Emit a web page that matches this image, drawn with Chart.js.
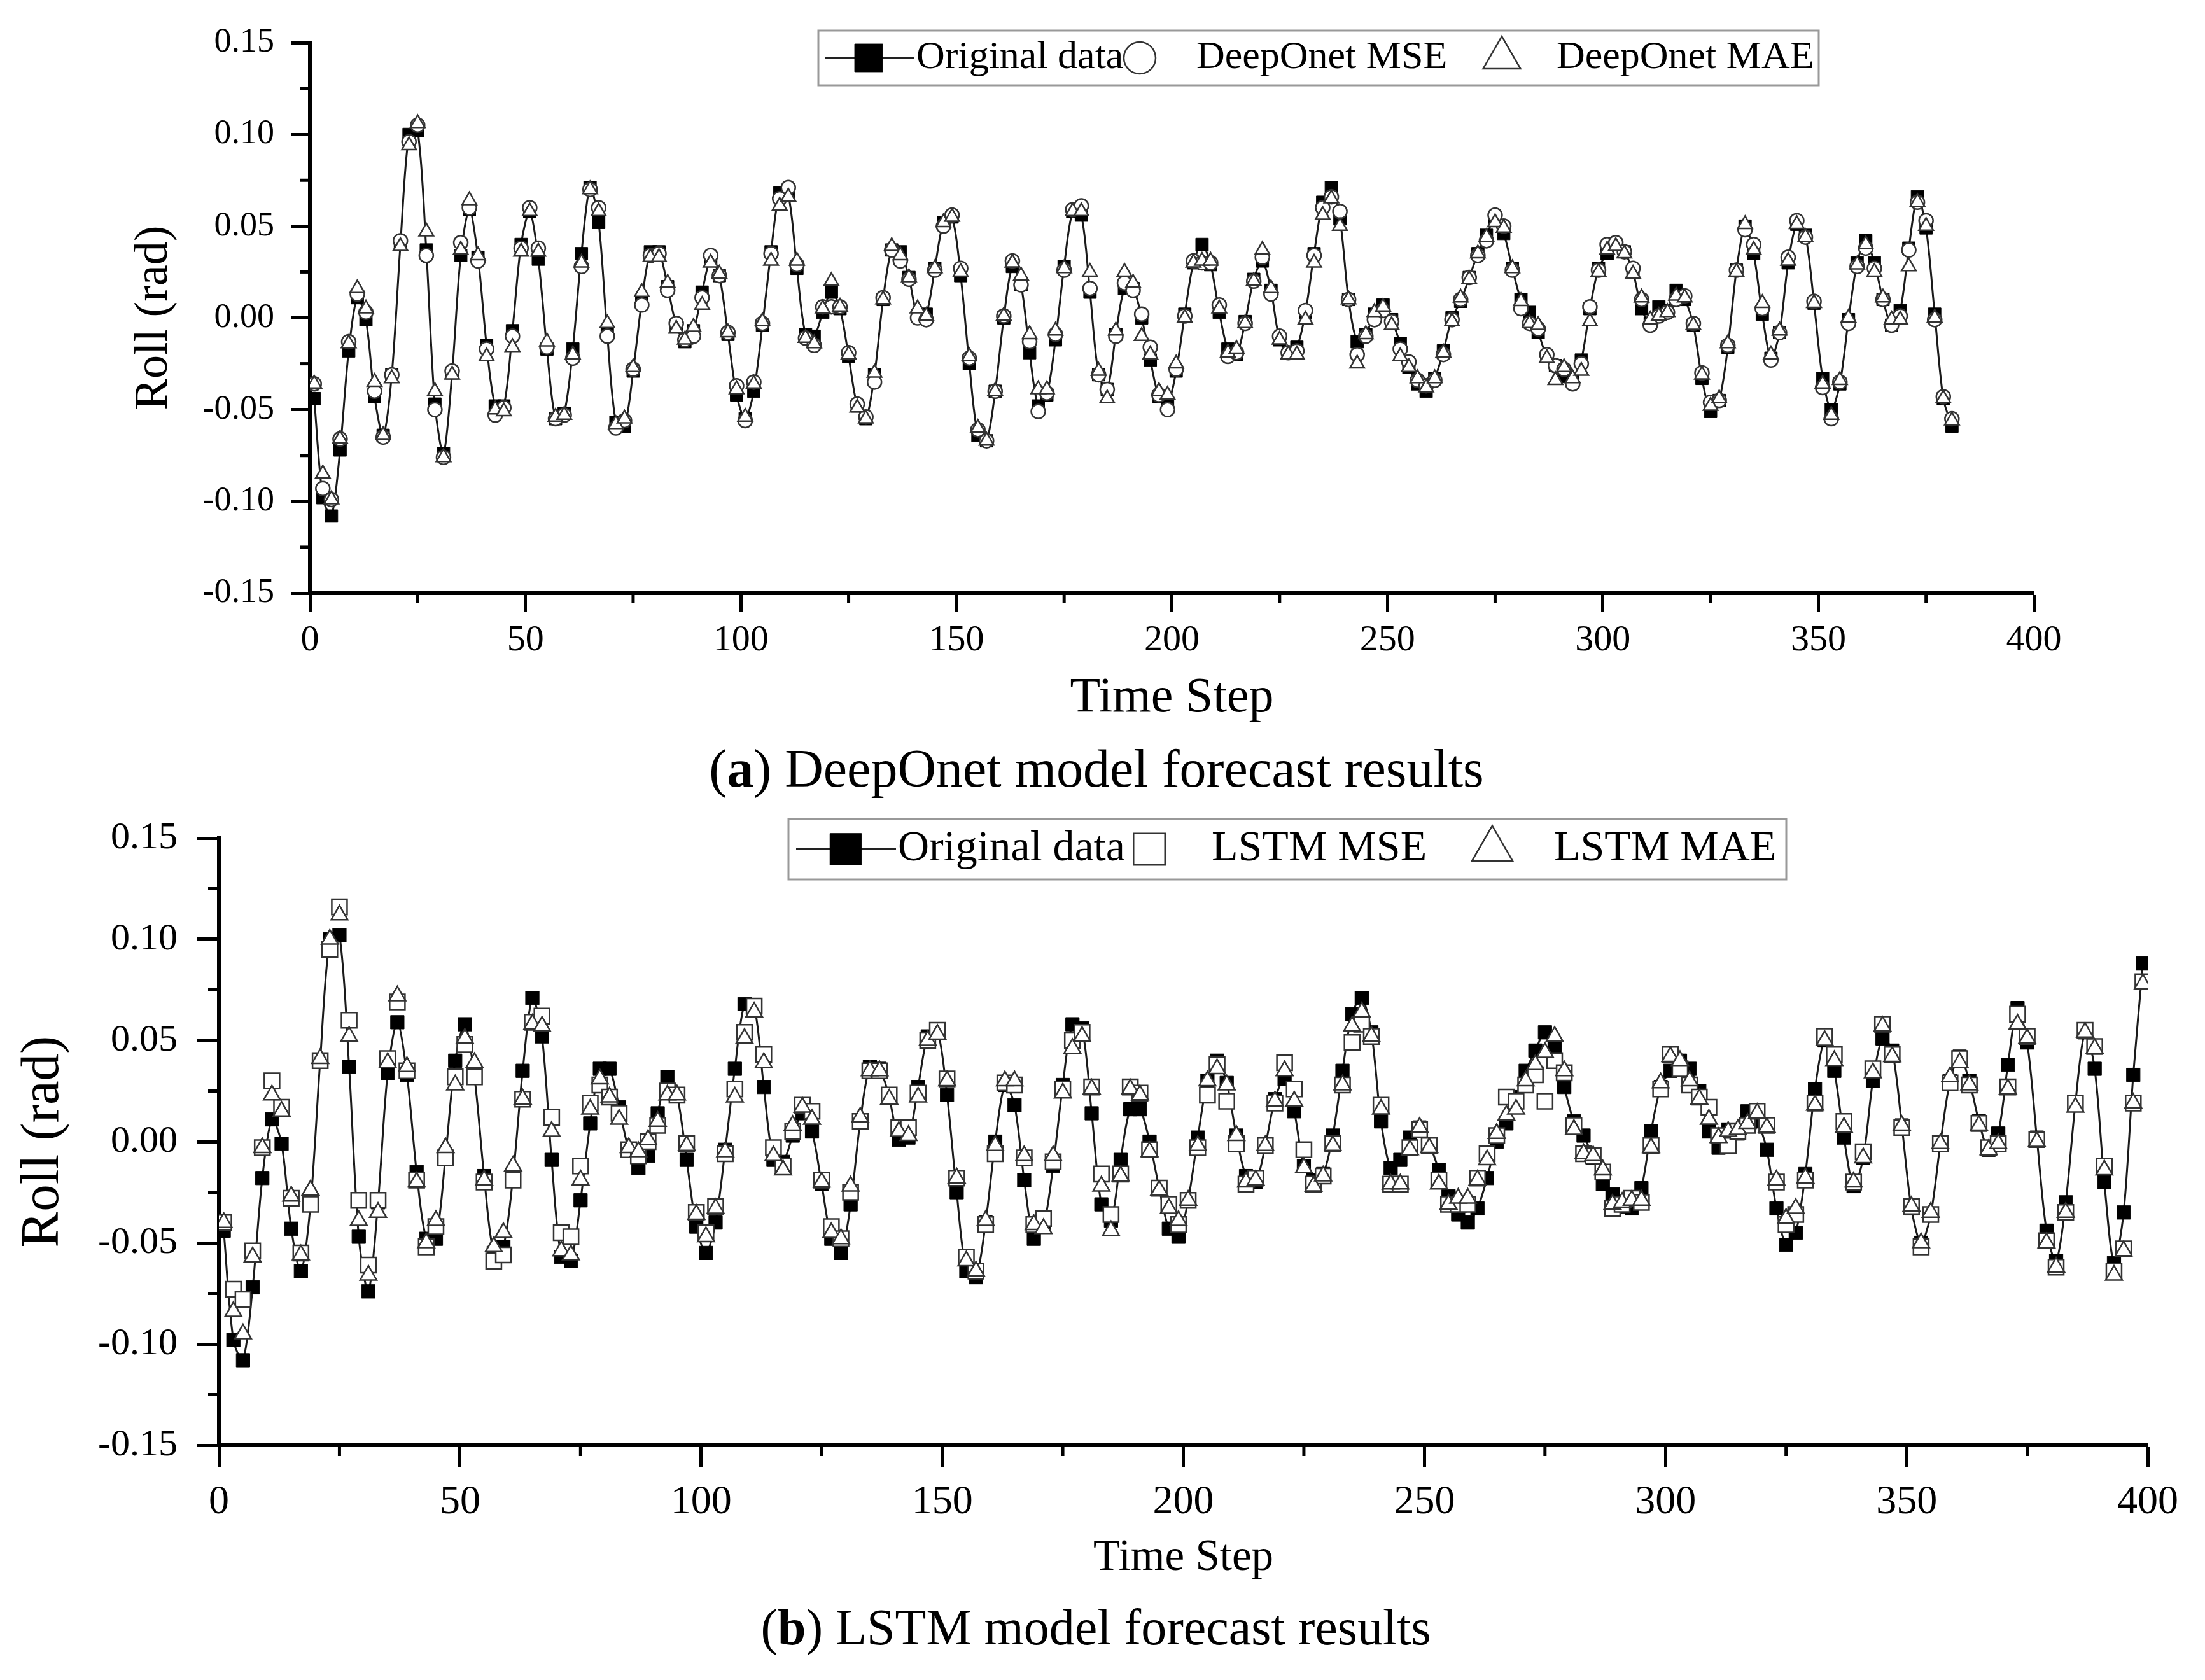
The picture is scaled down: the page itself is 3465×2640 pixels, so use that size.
<!DOCTYPE html>
<html>
<head>
<meta charset="utf-8">
<script src="https://cdn.jsdelivr.net/npm/chart.js@4.4.1/dist/chart.umd.min.js"></script>
<style>
    body { margin: 0; background: #fff; }
    #page { position: relative; width: 3465px; height: 2640px; overflow: hidden; background: #fff; font-family: "Liberation Serif", "Times New Roman", serif; }
    .panel { position: absolute; left: 0; }
    .caption { position: absolute; text-align: center; white-space: nowrap; color: #000; line-height: 1; }
</style>
</head>
<body>
<div id="page">
    <div class="panel" style="top:0; width:3465px; height:1150px;">
        <canvas id="deepOnetChart" width="3465" height="1150"></canvas>
    </div>
    <div class="caption" style="left:723px; width:2000px; top:1166px; font-size:84px;">(<b>a</b>) DeepOnet model forecast results</div>

    <div class="panel" style="top:1250px; width:3465px; height:1260px;">
        <canvas id="lstmChart" width="3465" height="1260"></canvas>
    </div>
    <div class="caption" style="left:722px; width:2000px; top:2517px; font-size:80px;">(<b>b</b>) LSTM model forecast results</div>
</div>

<script>
// Roll (rad), sampled every 2 time steps from t = 1
const rollOriginal = [
    -0.044, -0.098, -0.108, -0.072, -0.018, 0.011, -0.001, -0.043, -0.064, -0.031,
    0.040, 0.100, 0.102, 0.037, -0.047, -0.074, -0.030, 0.034, 0.059, 0.033,
    -0.015, -0.048, -0.048, -0.007, 0.040, 0.058, 0.032, -0.017, -0.055, -0.052,
    -0.017, 0.035, 0.071, 0.052, -0.009, -0.057, -0.059, -0.029, 0.009, 0.036,
    0.036, 0.017, -0.004, -0.013, -0.007, 0.014, 0.032, 0.023, -0.009, -0.042,
    -0.055, -0.040, -0.004, 0.036, 0.068, 0.067, 0.027, -0.009, -0.010, 0.003,
    0.014, 0.005, -0.021, -0.048, -0.055, -0.031, 0.010, 0.037, 0.036, 0.022,
    0.001, 0.002, 0.027, 0.052, 0.055, 0.023, -0.025, -0.064, -0.067, -0.040,
    0.000, 0.028, 0.018, -0.019, -0.048, -0.042, -0.012, 0.028, 0.058, 0.056,
    0.014, -0.031, -0.039, -0.009, 0.016, 0.016, 0.000, -0.023, -0.043, -0.047,
    -0.029, 0.002, 0.030, 0.040, 0.029, 0.003, -0.017, -0.020, -0.002, 0.021,
    0.031, 0.015, -0.012, -0.019, -0.016, 0.003, 0.035, 0.063, 0.071, 0.054,
    0.010, -0.013, -0.009, 0.002, 0.007, -0.001, -0.014, -0.027, -0.036, -0.040,
    -0.033, -0.018, 0.000, 0.009, 0.022, 0.035, 0.045, 0.054, 0.046, 0.027,
    0.010, 0.003, -0.008, -0.021, -0.026, -0.032, -0.033, -0.023, 0.005, 0.027,
    0.035, 0.040, 0.036, 0.025, 0.005, -0.003, 0.006, 0.004, 0.015, 0.010,
    -0.004, -0.033, -0.051, -0.045, -0.016, 0.026, 0.050, 0.035, 0.002, -0.022,
    -0.008, 0.030, 0.051, 0.045, 0.008, -0.033, -0.050, -0.036, -0.001, 0.030,
    0.042, 0.030, 0.010, -0.004, 0.004, 0.038, 0.066, 0.049, 0.002, -0.044,
    -0.059, -0.030, 0.019, 0.054, 0.036, -0.020, -0.060, -0.035, 0.033, 0.088
];

const deepOnetMse = [
    -0.036, -0.093, -0.099, -0.066, -0.013, 0.013, 0.003, -0.040, -0.065, -0.031,
    0.042, 0.096, 0.105, 0.034, -0.050, -0.076, -0.029, 0.041, 0.060, 0.031,
    -0.017, -0.053, -0.049, -0.010, 0.038, 0.060, 0.038, -0.016, -0.055, -0.053,
    -0.022, 0.028, 0.070, 0.060, -0.010, -0.060, -0.056, -0.028, 0.007, 0.034,
    0.035, 0.015, -0.003, -0.012, -0.010, 0.011, 0.034, 0.023, -0.008, -0.037,
    -0.056, -0.035, -0.003, 0.035, 0.065, 0.071, 0.029, -0.011, -0.015, 0.006,
    0.006, 0.006, -0.019, -0.047, -0.054, -0.035, 0.011, 0.037, 0.031, 0.021,
    0.000, -0.001, 0.026, 0.050, 0.056, 0.027, -0.022, -0.061, -0.067, -0.040,
    0.001, 0.031, 0.018, -0.013, -0.051, -0.041, -0.009, 0.026, 0.059, 0.061,
    0.016, -0.031, -0.039, -0.010, 0.019, 0.015, 0.002, -0.016, -0.042, -0.050,
    -0.028, 0.001, 0.031, 0.030, 0.030, 0.007, -0.021, -0.019, -0.003, 0.020,
    0.033, 0.013, -0.010, -0.019, -0.018, 0.004, 0.034, 0.060, 0.066, 0.058,
    0.010, -0.020, -0.010, -0.001, 0.004, -0.002, -0.017, -0.024, -0.034, -0.037,
    -0.034, -0.020, -0.001, 0.010, 0.022, 0.034, 0.042, 0.056, 0.050, 0.026,
    0.005, -0.003, -0.006, -0.020, -0.026, -0.028, -0.036, -0.025, 0.006, 0.026,
    0.040, 0.041, 0.036, 0.027, 0.010, -0.004, 0.001, 0.003, 0.010, 0.012,
    -0.003, -0.030, -0.046, -0.045, -0.015, 0.026, 0.048, 0.040, 0.005, -0.023,
    -0.008, 0.033, 0.053, 0.044, 0.009, -0.038, -0.055, -0.035, -0.003, 0.028,
    0.038, 0.027, 0.010, -0.004, 0.001, 0.037, 0.063, 0.053, -0.001, -0.043,
    -0.055
];

const deepOnetMae = [
    -0.036, -0.085, -0.099, -0.066, -0.014, 0.016, 0.005, -0.035, -0.064, -0.033,
    0.039, 0.094, 0.106, 0.047, -0.040, -0.076, -0.031, 0.037, 0.064, 0.034,
    -0.021, -0.050, -0.051, -0.016, 0.036, 0.058, 0.036, -0.013, -0.054, -0.053,
    -0.020, 0.030, 0.070, 0.058, -0.003, -0.058, -0.055, -0.027, 0.014, 0.033,
    0.033, 0.019, -0.006, -0.012, -0.005, 0.007, 0.030, 0.024, -0.008, -0.039,
    -0.054, -0.036, -0.002, 0.031, 0.061, 0.066, 0.031, -0.011, -0.014, 0.005,
    0.020, 0.006, -0.020, -0.049, -0.055, -0.030, 0.010, 0.039, 0.034, 0.022,
    0.005, 0.001, 0.027, 0.052, 0.055, 0.025, -0.021, -0.060, -0.067, -0.040,
    0.001, 0.030, 0.023, -0.009, -0.039, -0.039, -0.007, 0.027, 0.058, 0.058,
    0.025, -0.029, -0.044, -0.007, 0.025, 0.019, -0.010, -0.020, -0.040, -0.042,
    -0.025, 0.000, 0.030, 0.031, 0.031, 0.005, -0.019, -0.017, -0.003, 0.020,
    0.037, 0.016, -0.012, -0.020, -0.020, -0.001, 0.030, 0.056, 0.065, 0.050,
    0.010, -0.025, -0.009, 0.003, 0.006, -0.004, -0.021, -0.027, -0.033, -0.038,
    -0.033, -0.019, -0.002, 0.011, 0.021, 0.035, 0.044, 0.052, 0.049, 0.027,
    0.009, -0.003, -0.004, -0.022, -0.034, -0.027, -0.033, -0.029, -0.002, 0.025,
    0.037, 0.039, 0.035, 0.024, 0.011, -0.001, 0.001, 0.003, 0.012, 0.011,
    -0.004, -0.031, -0.048, -0.044, -0.014, 0.025, 0.051, 0.037, 0.008, -0.020,
    -0.007, 0.031, 0.051, 0.044, 0.008, -0.036, -0.053, -0.034, 0.000, 0.029,
    0.040, 0.025, 0.011, -0.001, -0.001, 0.028, 0.063, 0.050, 0.000, -0.044,
    -0.056
];

const lstmMse = [
    -0.040, -0.073, -0.078, -0.054, -0.003, 0.030, 0.017, -0.028, -0.055, -0.031,
    0.040, 0.095, 0.116, 0.060, -0.029, -0.061, -0.029, 0.041, 0.069, 0.035,
    -0.019, -0.052, -0.042, -0.008, 0.032, 0.048, 0.032, -0.020, -0.059, -0.056,
    -0.019, 0.021, 0.059, 0.062, 0.012, -0.045, -0.047, -0.012, 0.019, 0.028,
    0.022, 0.014, -0.004, -0.007, 0.000, 0.008, 0.025, 0.023, -0.001, -0.035,
    -0.045, -0.032, -0.006, 0.026, 0.054, 0.067, 0.043, -0.003, -0.012, 0.005,
    0.018, 0.015, -0.019, -0.042, -0.048, -0.025, 0.010, 0.035, 0.035, 0.023,
    0.007, 0.007, 0.024, 0.050, 0.055, 0.031, -0.018, -0.057, -0.064, -0.041,
    -0.006, 0.029, 0.028, -0.008, -0.041, -0.038, -0.010, 0.026, 0.050, 0.054,
    0.027, -0.016, -0.036, -0.016, 0.027, 0.024, -0.004, -0.023, -0.031, -0.041,
    -0.029, -0.003, 0.023, 0.038, 0.020, -0.001, -0.021, -0.018, -0.002, 0.019,
    0.039, 0.026, -0.004, -0.021, -0.017, -0.001, 0.028, 0.049, 0.058, 0.052,
    0.018, -0.021, -0.021, -0.003, 0.006, -0.002, -0.019, -0.031, -0.031, -0.031,
    -0.018, -0.006, 0.003, 0.022, 0.020, 0.028, 0.033, 0.020, 0.040, 0.034,
    0.008, -0.006, -0.007, -0.015, -0.033, -0.031, -0.028, -0.030, -0.002, 0.026,
    0.043, 0.036, 0.028, 0.022, 0.017, 0.003, -0.002, 0.005, 0.008, 0.015,
    0.008, -0.020, -0.041, -0.036, -0.019, 0.019, 0.052, 0.043, 0.010, -0.020,
    -0.005, 0.036, 0.058, 0.043, 0.007, -0.032, -0.052, -0.036, -0.001, 0.029,
    0.041, 0.028, 0.009, -0.003, -0.001, 0.027, 0.063, 0.052, 0.001, -0.049,
    -0.062, -0.035, 0.019, 0.055, 0.047, -0.012, -0.064, -0.053, 0.019, 0.079
];

const lstmMae = [
    -0.040, -0.084, -0.095, -0.057, -0.003, 0.023, 0.015, -0.027, -0.056, -0.024,
    0.041, 0.100, 0.112, 0.052, -0.039, -0.066, -0.035, 0.039, 0.072, 0.037,
    -0.020, -0.050, -0.039, -0.003, 0.028, 0.051, 0.039, -0.019, -0.052, -0.045,
    -0.012, 0.021, 0.058, 0.057, 0.005, -0.054, -0.056, -0.019, 0.016, 0.031,
    0.022, 0.011, -0.003, -0.005, 0.001, 0.010, 0.023, 0.023, -0.002, -0.036,
    -0.047, -0.033, -0.005, 0.022, 0.051, 0.064, 0.039, -0.007, -0.014, 0.008,
    0.017, 0.011, -0.020, -0.045, -0.048, -0.022, 0.012, 0.035, 0.035, 0.021,
    0.005, 0.003, 0.022, 0.050, 0.053, 0.030, -0.018, -0.059, -0.064, -0.039,
    -0.002, 0.030, 0.030, -0.007, -0.041, -0.043, -0.007, 0.024, 0.046, 0.052,
    0.026, -0.022, -0.044, -0.017, 0.026, 0.023, -0.005, -0.024, -0.033, -0.039,
    -0.029, -0.002, 0.030, 0.036, 0.028, 0.003, -0.020, -0.019, -0.002, 0.020,
    0.035, 0.020, -0.013, -0.022, -0.017, -0.002, 0.028, 0.057, 0.064, 0.052,
    0.016, -0.021, -0.021, -0.004, 0.007, -0.003, -0.021, -0.031, -0.028, -0.028,
    -0.019, -0.009, 0.004, 0.013, 0.016, 0.030, 0.038, 0.044, 0.052, 0.035,
    0.006, -0.006, -0.007, -0.014, -0.031, -0.030, -0.029, -0.029, -0.003, 0.029,
    0.042, 0.040, 0.030, 0.021, 0.011, 0.002, 0.005, 0.006, 0.009, 0.014,
    0.007, -0.019, -0.038, -0.033, -0.018, 0.018, 0.050, 0.040, 0.007, -0.020,
    -0.008, 0.034, 0.057, 0.042, 0.008, -0.032, -0.050, -0.035, -0.001, 0.032,
    0.039, 0.028, 0.008, -0.004, -0.001, 0.026, 0.058, 0.051, 0.000, -0.050,
    -0.062, -0.035, 0.017, 0.054, 0.046, -0.014, -0.066, -0.054, 0.019, 0.078
];

// time step of each sample (every second step, starting at 1)
const timeStep = rollOriginal.map((_, i) => 1 + 2 * i);

const xTicks = [0, 50, 100, 150, 200, 250, 300, 350, 400];
const yTicks = [-0.15, -0.10, -0.05, 0.00, 0.05, 0.10, 0.15];

const FONT = '"Liberation Serif", "Times New Roman", serif';

function toPoints(values) {
    return values.map((v, i) => ({ x: timeStep[i], y: v }));
}

// short unlabeled ticks halfway between the labelled ones
const minorTicks = {
    id: 'minorTicks',
    afterDraw(chart, args, opts) {
        const ctx = chart.ctx;
        ctx.save();
        ctx.strokeStyle = '#000';
        ctx.lineWidth = opts.width;
        ['x', 'y'].forEach((id) => {
            const scale = chart.scales[id];
            const t = scale.ticks;
            for (let i = 0; i < t.length - 1; i++) {
                const p = scale.getPixelForValue((t[i].value + t[i + 1].value) / 2);
                ctx.beginPath();
                if (id === 'x') {
                    ctx.moveTo(p, scale.top);
                    ctx.lineTo(p, scale.top + opts.length);
                } else {
                    ctx.moveTo(scale.right, p);
                    ctx.lineTo(scale.right - opts.length, p);
                }
                ctx.stroke();
            }
        });
        ctx.restore();
    }
};

// boxed one-row legend like the Origin plot
const boxLegend = {
    id: 'boxLegend',
    afterDraw(chart, args, opts) {
        const ctx = chart.ctx;
        const b = opts.box;
        const cy = b.y + b.h / 2;
        ctx.save();
        ctx.strokeStyle = '#999';
        ctx.lineWidth = 3;
        ctx.strokeRect(b.x, b.y, b.w, b.h);
        ctx.font = opts.fontSize + 'px ' + FONT;
        ctx.textBaseline = 'middle';
        ctx.textAlign = 'left';
        chart.data.datasets.forEach((ds, i) => {
            const item = opts.items[i];
            if (item.lineFrom !== undefined) {
                ctx.strokeStyle = '#222';
                ctx.lineWidth = 3;
                ctx.beginPath();
                ctx.moveTo(item.lineFrom, cy);
                ctx.lineTo(item.lineTo, cy);
                ctx.stroke();
            }
            ctx.fillStyle = ds.pointBackgroundColor;
            ctx.strokeStyle = ds.pointBorderColor;
            ctx.lineWidth = ds.pointBorderWidth;
            Chart.helpers.drawPoint(ctx, {
                pointStyle: ds.pointStyle, rotation: 0, radius: item.r, borderWidth: ds.pointBorderWidth
            }, item.sx, cy);
            ctx.fillStyle = '#000';
            ctx.fillText(ds.label, item.tx, cy);
        });
        ctx.restore();
    }
};

function axisOptions(s) {
    return {
        x: {
            type: 'linear', min: 0, max: 400,
            afterBuildTicks: (scale) => { scale.ticks = xTicks.map((v) => ({ value: v })); },
            ticks: { color: '#000', font: { family: FONT, size: s.xTickSize }, padding: s.xTickPad, maxRotation: 0, autoSkip: false },
            grid: { drawOnChartArea: false, drawTicks: true, tickLength: s.xTickLen, tickWidth: 5, tickColor: '#000' },
            border: { display: true, color: '#000', width: 6 },
            title: { display: true, text: 'Time Step', color: '#000', font: { family: FONT, size: s.xTitleSize }, padding: { top: 0, bottom: s.xTitlePad } },
            afterFit: (scale) => { scale.height = s.xHeight; }
        },
        y: {
            type: 'linear', min: -0.15, max: 0.15,
            afterBuildTicks: (scale) => { scale.ticks = yTicks.map((v) => ({ value: v })); },
            ticks: {
                color: '#000', font: { family: FONT, size: s.yTickSize }, padding: s.yTickPad,
                callback: (v) => (Math.abs(v) < 1e-9 ? '0.00' : Number(v).toFixed(2))
            },
            grid: { drawOnChartArea: false, drawTicks: true, tickLength: s.yTickLen, tickWidth: 5, tickColor: '#000' },
            border: { display: true, color: '#000', width: 6 },
            title: { display: true, text: 'Roll (rad)', color: '#000', font: { family: FONT, size: s.yTitleSize }, padding: { top: s.yTitlePad, bottom: 0 } },
            afterFit: (scale) => { scale.width = s.yWidth; }
        }
    };
}

function originalDataset(values, r) {
    return {
        label: 'Original data',
        data: toPoints(values),
        showLine: true,
        borderColor: '#1a1a1a',
        borderWidth: 3,
        tension: 0.3,
        pointStyle: 'rect',
        pointRadius: r,
        pointBackgroundColor: '#000',
        pointBorderColor: '#000',
        pointBorderWidth: 1,
        order: 3
    };
}

function hollowDataset(label, values, style, r, order) {
    return {
        label: label,
        data: toPoints(values),
        showLine: false,
        pointStyle: style,
        pointRadius: r,
        pointBackgroundColor: '#fff',
        pointBorderColor: '#333',
        pointBorderWidth: 2.5,
        order: order
    };
}

function setupDeepOnetChart() {
    const ctx = document.getElementById('deepOnetChart').getContext('2d');
    // the DeepOnet panel only covers the first part of the test record
    const shownOriginal = rollOriginal.slice(0, deepOnetMse.length);
    new Chart(ctx, {
        type: 'scatter',
        data: {
            datasets: [
                originalDataset(shownOriginal, 14),
                hollowDataset('DeepOnet MSE', deepOnetMse, 'circle', 11, 2),
                hollowDataset('DeepOnet MAE', deepOnetMae, 'triangle', 13, 1)
            ]
        },
        options: {
            responsive: false,
            animation: false,
            devicePixelRatio: 1,
            layout: { padding: { top: 67, left: 0, right: 269, bottom: 0 } },
            scales: axisOptions({
                xTickSize: 58, xTickPad: 10, xTickLen: 30, xTitleSize: 78, xTitlePad: 6, xHeight: 218,
                yTickSize: 54, yTickPad: 26, yTickLen: 30, yTitleSize: 74, yTitlePad: 198, yWidth: 487
            }),
            plugins: {
                legend: { display: false },
                tooltip: { enabled: false },
                minorTicks: { length: 16, width: 5 },
                boxLegend: {
                    box: { x: 1286, y: 48, w: 1572, h: 86 },
                    fontSize: 62,
                    items: [
                        { lineFrom: 1296, lineTo: 1437, sx: 1365, r: 31, tx: 1440 },
                        { sx: 1791, r: 25, tx: 1880 },
                        { sx: 2360, r: 34, tx: 2446 }
                    ]
                }
            }
        },
        plugins: [minorTicks, boxLegend]
    });
}

function setupLstmChart() {
    const ctx = document.getElementById('lstmChart').getContext('2d');
    new Chart(ctx, {
        type: 'scatter',
        data: {
            datasets: [
                originalDataset(rollOriginal, 15),
                hollowDataset('LSTM MSE', lstmMse, 'rect', 17, 2),
                hollowDataset('LSTM MAE', lstmMae, 'triangle', 15, 1)
            ]
        },
        options: {
            responsive: false,
            animation: false,
            devicePixelRatio: 1,
            layout: { padding: { top: 58, left: 0, right: 90, bottom: 0 } },
            scales: axisOptions({
                xTickSize: 64, xTickPad: 18, xTickLen: 34, xTitleSize: 69, xTitlePad: 20, xHeight: 239,
                yTickSize: 60, yTickPad: 31, yTickLen: 34, yTitleSize: 85, yTitlePad: 18, yWidth: 344
            }),
            plugins: {
                legend: { display: false },
                tooltip: { enabled: false },
                minorTicks: { length: 17, width: 5 },
                boxLegend: {
                    box: { x: 1239, y: 37, w: 1568, h: 95 },
                    fontSize: 68,
                    items: [
                        { lineFrom: 1251, lineTo: 1408, sx: 1329, r: 35, tx: 1411 },
                        { sx: 1806, r: 35, tx: 1904 },
                        { sx: 2345, r: 37, tx: 2442 }
                    ]
                }
            }
        },
        plugins: [minorTicks, boxLegend]
    });
}

setupDeepOnetChart();
setupLstmChart();
</script>
</body>
</html>
